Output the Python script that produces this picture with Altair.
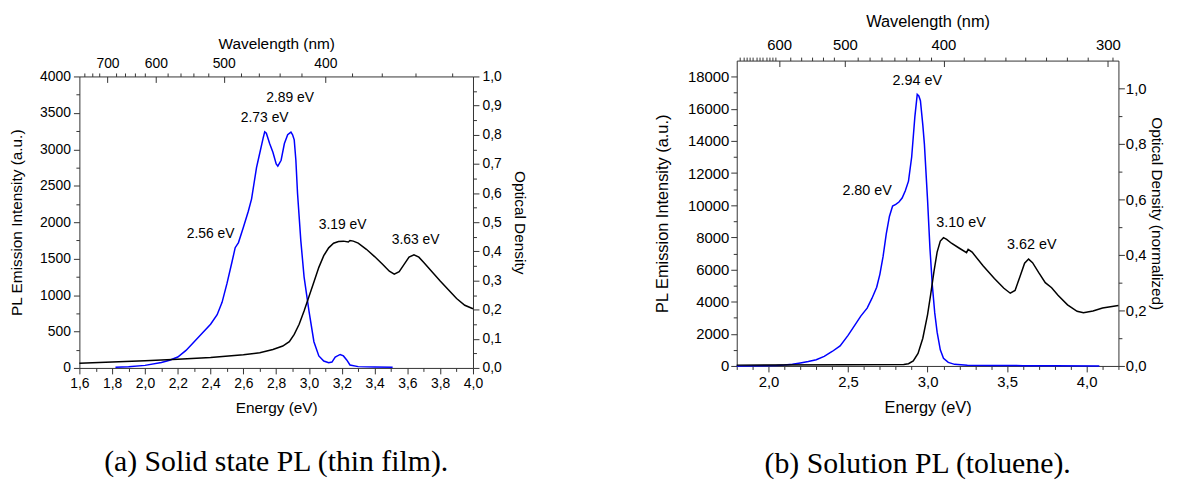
import altair as alt
import pandas as pd
import numpy as np

# ---------------- data: panel (a) thin film ----------------
pl_a_E = [1.82, 1.90, 2.00, 2.10, 2.15, 2.20, 2.25, 2.30, 2.35, 2.40, 2.44, 2.47, 2.50, 2.53,
          2.55, 2.57, 2.60, 2.63, 2.65, 2.68, 2.70, 2.72, 2.73, 2.74, 2.76, 2.78, 2.80, 2.81,
          2.83, 2.85, 2.87, 2.89, 2.90, 2.91, 2.92, 2.93, 2.95, 2.97, 3.00, 3.03, 3.06, 3.09,
          3.12, 3.14, 3.16, 3.19, 3.21, 3.23, 3.25, 3.30, 3.40, 3.51]
pl_a_I = [8, 15, 35, 75, 105, 150, 240, 360, 480, 600, 730, 900, 1160, 1450,
          1650, 1720, 1930, 2150, 2320, 2750, 2950, 3150, 3240, 3220, 3080, 2960, 2800, 2770,
          2850, 3080, 3200, 3235, 3200, 3130, 2850, 2400, 1750, 1250, 780, 360, 165, 95,
          72, 80, 150, 185, 165, 110, 40, 18, 12, 8]

od_a_E = [1.60, 1.80, 2.00, 2.20, 2.40, 2.60, 2.70, 2.78, 2.84, 2.88, 2.91, 2.94, 2.97, 3.00,
          3.03, 3.06, 3.09, 3.12, 3.15, 3.18, 3.21, 3.24, 3.25, 3.27, 3.30, 3.35, 3.40, 3.45,
          3.49, 3.52, 3.55, 3.58, 3.61, 3.64, 3.67, 3.70, 3.75, 3.80, 3.85, 3.90, 3.95, 4.00]
od_a_OD = [0.016, 0.020, 0.025, 0.030, 0.036, 0.045, 0.052, 0.063, 0.075, 0.090, 0.115, 0.150,
           0.195, 0.245, 0.295, 0.345, 0.385, 0.412, 0.428, 0.434, 0.435, 0.432, 0.437, 0.435,
           0.428, 0.407, 0.382, 0.355, 0.332, 0.322, 0.330, 0.355, 0.380, 0.388, 0.380, 0.362,
           0.330, 0.298, 0.268, 0.238, 0.215, 0.203]

ann_a_label = ["2.89 eV", "2.73 eV", "2.56 eV", "3.19 eV", "3.63 eV"]
ann_a_E = [2.885, 2.73, 2.40, 3.205, 3.65]
ann_a_V = [3700, 3430, 1840, 1955, 1750]

# ---------------- data: panel (b) toluene solution ----------------
pl_b_E = [1.80, 1.95, 2.05, 2.10, 2.15, 2.20, 2.25, 2.30, 2.35, 2.40, 2.45, 2.50, 2.55, 2.58,
          2.62, 2.65, 2.68, 2.70, 2.72, 2.74, 2.76, 2.78, 2.80, 2.82, 2.84, 2.86, 2.88, 2.90,
          2.92, 2.935, 2.945, 2.955, 2.97, 2.98, 3.00, 3.015, 3.03, 3.045, 3.06, 3.08, 3.10,
          3.13, 3.17, 3.25, 3.40, 3.60, 3.80, 4.08]
pl_b_I = [0, 10, 30, 60, 110, 190, 280, 390, 600, 900, 1250, 1900, 2650, 3100,
          3600, 4200, 4900, 5700, 6800, 8200, 9300, 9950, 10050, 10200, 10450, 10900, 11500, 13000,
          15500, 16900, 16800, 16500, 15000, 13800, 10300, 7300, 5000, 3300, 2100, 1000, 480,
          220, 100, 50, 30, 20, 10, 0]

od_b_E = [1.80, 2.50, 2.85, 2.88, 2.91, 2.94, 2.97, 3.00, 3.02, 3.04, 3.06, 3.08, 3.10, 3.12,
          3.15, 3.20, 3.245, 3.255, 3.28, 3.35, 3.42, 3.48, 3.52, 3.55, 3.58, 3.61, 3.635, 3.66,
          3.70, 3.74, 3.78, 3.82, 3.88, 3.94, 3.98, 4.04, 4.10, 4.20]
od_b_OD = [0.003, 0.004, 0.005, 0.008, 0.018, 0.045, 0.100, 0.185, 0.260, 0.340, 0.410, 0.450,
           0.462, 0.456, 0.442, 0.424, 0.408, 0.420, 0.410, 0.360, 0.315, 0.280, 0.262, 0.272,
           0.320, 0.370, 0.385, 0.372, 0.335, 0.300, 0.282, 0.255, 0.220, 0.197, 0.192, 0.198,
           0.209, 0.218]

ann_b_label = ["2.94 eV", "2.80 eV", "3.10 eV", "3.62 eV"]
ann_b_E = [2.935, 2.62, 3.21, 3.655]
ann_b_V = [17750, 10900, 8900, 7550]

# ---------------- axis tick definitions ----------------
HC = 1240.0  # eV*nm
a_x_major = [round(1.6 + 0.2 * i, 2) for i in range(13)]
a_x_minor = [round(1.7 + 0.2 * i, 2) for i in range(12)]
a_yl_major = [500 * i for i in range(9)]
a_yl_minor = [250 + 500 * i for i in range(8)]
a_yr_major = [round(0.1 * i, 2) for i in range(11)]
a_yr_minor = [round(0.05 + 0.1 * i, 3) for i in range(10)]
a_top_major_nm = [700, 600, 500, 400]
a_top_minor_nm = [760, 740, 720, 680, 660, 640, 620, 580, 560, 540, 520, 480, 460, 440, 420,
                  380, 360, 340, 320]

b_x_major = [2.0, 2.5, 3.0, 3.5, 4.0]
b_x_minor = [round(1.8 + 0.1 * i, 2) for i in range(25) if round(1.8 + 0.1 * i, 2) not in b_x_major]
b_yl_major = [2000 * i for i in range(10)]
b_yl_minor = [1000 + 2000 * i for i in range(9)]
b_yr_major = [round(0.2 * i, 2) for i in range(6)]
b_yr_minor = [round(0.1 + 0.2 * i, 2) for i in range(5)]
b_top_major_nm = [600, 500, 400, 300]


def seg(a, b, n):
    return list(np.linspace(a, b, n + 1)[1:-1])


b_top_minor_E = ([HC / 600 - 0.0205 * k for k in range(1, 13)]
                 + seg(HC / 600, HC / 500, 6) + seg(HC / 500, HC / 400, 8)
                 + seg(HC / 400, HC / 300, 8) + [HC / 300 + 0.032])

FONT = "Liberation Sans"
AX = "#333333"
COMMA = "replace(format(datum.value, '.1f'), '.', ',')"
NM = "format(1240 / datum.value, '.0f')"


def panel(p):
    W, H, T = p["W"], p["H"], p["top"]
    xs = alt.Scale(domain=p["xdom"], nice=False, zero=False)
    yl = alt.Scale(domain=p["yldom"], nice=False, zero=False, range=[H, T])
    yr = alt.Scale(domain=p["yrdom"], nice=False, zero=False, range=[H, T])
    fl, ft = p["fs_label"], p["fs_title"]
    base = dict(domainColor=AX, tickColor=AX, labelColor="black", titleColor="black",
                labelFont=FONT, titleFont=FONT, labelFontSize=fl, titleFontSize=ft,
                titleFontWeight="normal", grid=False, domainWidth=1, tickWidth=1,
                labelFlush=False, labelOverlap=False, labelBound=False)
    tick_only = dict(labels=False, domain=False, title=None, grid=False,
                     tickColor=AX, tickWidth=1)

    pl_df = pd.DataFrame({"E": p["pl_E"], "I": p["pl_I"]})
    od_df = pd.DataFrame({"E": p["od_E"], "OD": p["od_OD"]})
    ann_df = pd.DataFrame({"label": p["ann_label"], "E": p["ann_E"], "V": p["ann_V"]})
    one = pd.DataFrame({"k": [0]})

    pl = alt.Chart(pl_df).mark_line(color="#0000ff", strokeWidth=1.5).encode(
        x=alt.X("E:Q", scale=xs, axis=alt.Axis(
            orient="bottom", values=p["x_major"], labelExpr=COMMA, title="Energy (eV)",
            tickSize=6, labelPadding=p["bx_lp"], titlePadding=p["bx_tp"], **base)),
        y=alt.Y("I:Q", scale=yl, axis=alt.Axis(
            orient="left", values=p["yl_major"], format="d", title=p["yl_title"],
            tickSize=6, labelPadding=p["yl_lp"], titlePadding=p["yl_tp"], **base)),
    )
    od = alt.Chart(od_df).mark_line(color="black", strokeWidth=1.5).encode(
        x=alt.X("E:Q", scale=xs, axis=alt.Axis(
            orient="top", values=p["top_major"], labelExpr=NM, title="Wavelength (nm)",
            ticks=False, offset=-T, labelPadding=p["tx_lp"], titlePadding=p["tx_tp"], **base)),
        y=alt.Y("OD:Q", scale=yr, axis=alt.Axis(
            orient="right", values=p["yr_major"], labelExpr=COMMA, title=p["yr_title"],
            tickSize=6, labelPadding=p["yr_lp"], titlePadding=p["yr_tp"],
            **dict(base, titleFontSize=p["fs_rtitle"]))),
    )
    m1 = alt.Chart(pl_df).mark_line(opacity=0).encode(
        x=alt.X("E:Q", scale=xs, axis=alt.Axis(orient="bottom", values=p["x_minor"],
                                               tickSize=3.5, **tick_only)),
        y=alt.Y("I:Q", scale=yl, axis=alt.Axis(orient="left", values=p["yl_minor"],
                                               tickSize=3.5, **tick_only)),
    )
    m2 = alt.Chart(od_df).mark_line(opacity=0).encode(
        x=alt.X("E:Q", scale=xs, axis=alt.Axis(orient="top", values=p["top_minor"],
                                               tickSize=3.5, offset=-T, **tick_only)),
        y=alt.Y("OD:Q", scale=yr, axis=alt.Axis(orient="right", values=p["yr_minor"],
                                                tickSize=3.5, **tick_only)),
    )
    m3 = alt.Chart(od_df).mark_line(opacity=0).encode(
        x=alt.X("E:Q", scale=xs, axis=alt.Axis(orient="top", values=p["top_major"],
                                               tickSize=6, offset=-(6 + T), **tick_only)),
        y=alt.Y("OD:Q", scale=yr, axis=None),
    )
    ann = alt.Chart(ann_df).mark_text(font=FONT, fontSize=p["fs_ann"], color="black").encode(
        x=alt.X("E:Q", scale=xs, axis=None),
        y=alt.Y("V:Q", scale=yl, axis=None),
        text="label:N",
    )
    pin = alt.Chart(one).mark_rule(strokeOpacity=0).encode(
        x=alt.value(-p["pin_l"]), x2=alt.value(W + p["pin_r"]),
        y=alt.value(-p["pin_t"]), y2=alt.value(0),
    )
    return alt.layer(pl, od, m1, m2, m3, ann, pin).resolve_scale(
        x="independent", y="independent"
    ).resolve_axis(x="independent", y="independent").properties(
        width=W, height=H,
        title=alt.TitleParams(text=p["caption"], orient="bottom", anchor="middle", frame="group",
                              font="Liberation Serif", fontSize=30, fontWeight="normal",
                              color="black", offset=p["cap_off"], dx=p["cap_dx"]),
    )


left = panel(dict(
    W=397, H=310, top=16, xdom=[1.6, 4.0], yldom=[0, 4000], yrdom=[0, 1.0],
    pl_E=pl_a_E, pl_I=pl_a_I, od_E=od_a_E, od_OD=od_a_OD,
    ann_label=ann_a_label, ann_E=ann_a_E, ann_V=ann_a_V,
    x_major=a_x_major, x_minor=a_x_minor, yl_major=a_yl_major, yl_minor=a_yl_minor,
    yr_major=a_yr_major, yr_minor=a_yr_minor,
    top_major=[HC / v for v in a_top_major_nm], top_minor=[HC / v for v in a_top_minor_nm],
    yl_title="PL Emission Intensity (a.u.)", yr_title="Optical Density",
    fs_label=14, fs_title=15.5, fs_rtitle=15.5, fs_ann=14,
    bx_lp=3, bx_tp=10, yl_lp=3, yl_tp=15, tx_lp=6, tx_tp=5, yr_lp=3, yr_tp=10,
    pin_l=72, pin_r=60, pin_t=51, caption="(a) Solid state PL (thin film).", cap_off=31,
    cap_dx=0,
))

right = panel(dict(
    W=385, H=308, top=0, xdom=[1.8, 4.2], yldom=[0, 19000], yrdom=[0, 1.1],
    pl_E=pl_b_E, pl_I=pl_b_I, od_E=od_b_E, od_OD=od_b_OD,
    ann_label=ann_b_label, ann_E=ann_b_E, ann_V=ann_b_V,
    x_major=b_x_major, x_minor=b_x_minor, yl_major=b_yl_major, yl_minor=b_yl_minor,
    yr_major=b_yr_major, yr_minor=b_yr_minor,
    top_major=[HC / v for v in b_top_major_nm], top_minor=b_top_minor_E,
    yl_title="PL Emission Intensity (a.u.)", yr_title="Optical Density (normalized)",
    fs_label=15, fs_title=16.5, fs_rtitle=15.5, fs_ann=14.5,
    bx_lp=2.5, bx_tp=10, yl_lp=2, yl_tp=17, tx_lp=8, tx_tp=8, yr_lp=1, yr_tp=3,
    pin_l=88, pin_r=0, pin_t=51, caption="(b) Solution PL (toluene).", cap_off=34,
    cap_dx=-10,
))

chart = alt.concat(left, right, columns=2, align="none", spacing=118).properties(
    padding={"left": 0, "top": 0, "right": 5, "bottom": 0}
).configure_view(stroke=None).configure_axis(grid=False)

chart.save("out.html", embed_options={"renderer": "svg", "actions": False})
